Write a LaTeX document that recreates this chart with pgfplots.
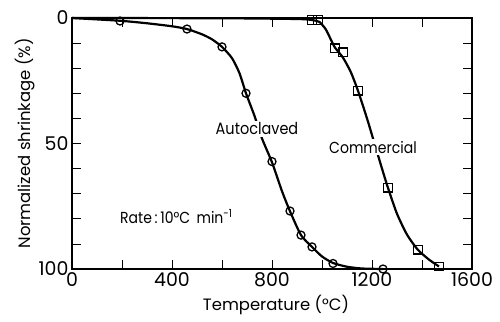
\documentclass[border=0pt]{standalone}
\usepackage{fontspec}
\setmainfont{Poppins}
\newfontfamily\cond{Poppins}[FakeStretch=0.88]
\usepackage{pgfplots}
\pgfplotsset{compat=1.18}
\begin{document}
\begin{tikzpicture}[font=\fontsize{14}{17}\selectfont]
\begin{axis}[
  scale only axis, width=400bp, height=251bp,
  xmin=0, xmax=1600, ymin=0, ymax=100, y dir=reverse,
  xtick={0,200,...,1600}, xticklabels={0,,400,,800,,1200,,1600},
  ytick={0,10,...,100}, yticklabels={0,,,,,50,,,,,100},
  tick align=inside, major tick length=9bp,
  tick style={black, line width=0.8bp},
  axis line style={line width=1.2bp},
  tick label style={font=\fontsize{19}{22}\selectfont},
  label style={font=\fontsize{16.5}{20}\selectfont},
  /pgf/number format/assume math mode=true,
  xlabel={Temperature (°C)}, ylabel={Normalized shrinkage (\%)},
  xlabel style={at={(axis description cs:0.51,-0.145)}, anchor=center},
  ylabel style={at={(axis description cs:-0.117,0.5)}, anchor=center},
  xticklabel style={yshift=-0.5bp},
  clip=false,
]
% Autoclaved curve
\addplot[black, line width=2.2bp, smooth, tension=0.4] coordinates {
(0,0) (192,1.1) (300,2.1) (400,3.3) (460,4.4) (520,6.5) (560,8.5) (600,11.5)
(640,16) (670,22) (696,30) (730,39) (760,48) (800,57.5) (840,69) (872,77)
(916,86.5) (960,91.2) (1000,95) (1044,97.6) (1100,99.1) (1160,99.8) (1244,100)};
% Commercial curve
\addplot[black, line width=2.2bp, smooth, tension=0.4] coordinates {
(0,0) (600,0.1) (900,0.4) (960,0.8) (990,1.6) (1015,4.5) (1035,8.5) (1052,11.8)
(1084,15.8) (1115,21.5) (1144,29) (1180,40) (1210,50) (1240,60) (1264,67.7)
(1300,78) (1340,86.3) (1384,92.4) (1430,96.4) (1468,99)};
% Autoclaved marks
\addplot[black, only marks, mark=o, mark size=4bp, mark options={fill=white, line width=1.3bp}] coordinates {
(192,1.2) (460,4.4) (600,11.5) (696,30) (800,57.2) (872,76.9) (916,86.5)
(960,91.2) (1044,97.8) (1244,100)};
% Commercial marks
\addplot[black, only marks, mark=square, mark size=4.2bp, mark options={fill=white, line width=1.3bp}] coordinates {
(960,0.8) (984,0.8) (1052,12) (1084,13.6) (1144,29) (1264,67.7) (1384,92.4) (1468,99)};
\node[fill=white, inner sep=1.5bp, font=\cond\fontsize{16.5}{19}\selectfont] at (axis cs:740,44.2) {Autoclaved};
\node[fill=white, inner sep=1.5bp, font=\cond\fontsize{16}{19}\selectfont] at (axis cs:1204,51.4) {Commercial};
\node[anchor=west, inner sep=0pt, font=\cond\fontsize{16}{19}\selectfont] at (axis cs:192,79) {Rate\,:\,10°C\, min\textsuperscript{-1}};
\end{axis}
\pgfresetboundingbox
\path[use as bounding box] ([xshift=-72bp,yshift=-53bp]current axis.south west) rectangle ([xshift=28bp,yshift=18bp]current axis.north east);
\end{tikzpicture}
\end{document}
